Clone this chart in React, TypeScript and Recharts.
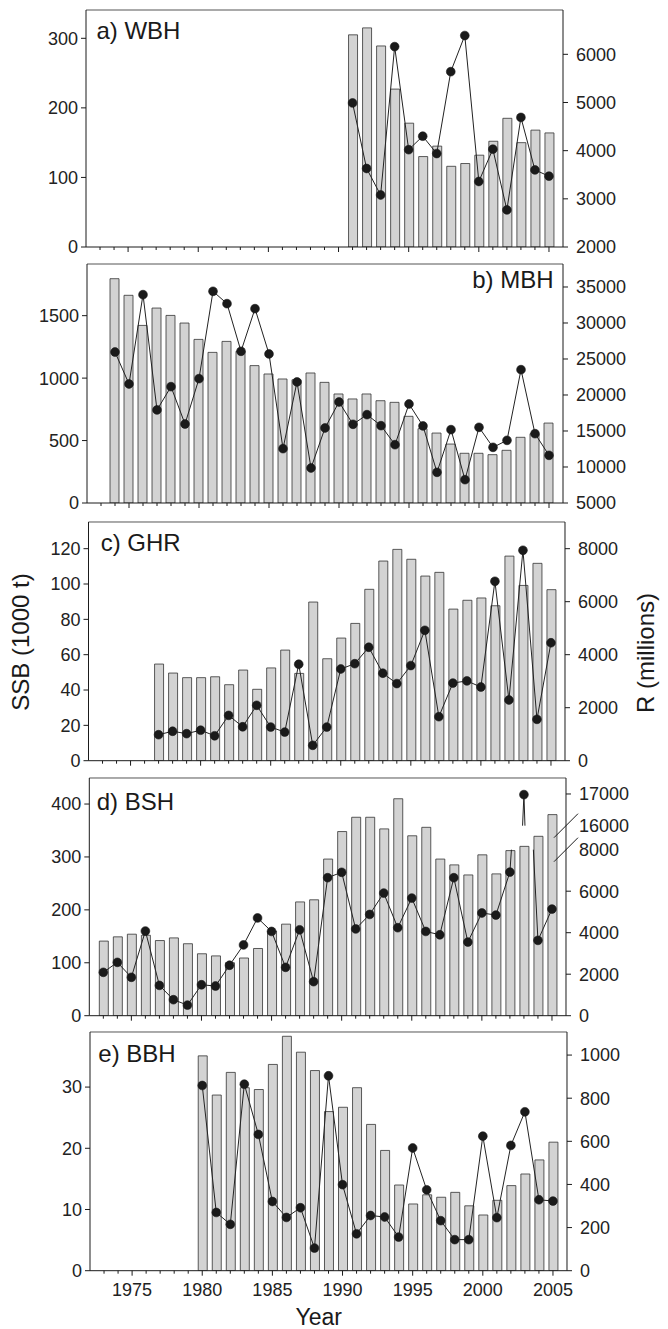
import React from "react";
import { Bar, ComposedChart, Line, ReferenceLine, XAxis, YAxis } from "recharts";

const FONT = "'Liberation Sans', Arial, Helvetica, sans-serif";
const INK = "#1a1a1a";
const BAR_FILL = "#d3d3d3";
const BAR_EDGE = "#333";

const yearsFrom = (start: number, n: number) => Array.from({ length: n }, (_, i) => start + i);

// a) WBH 1991-2005
const wbhStart = 1991;
const wbhSsb = [305, 315, 289, 227, 178, 130, 145, 116, 120, 132, 152, 185, 150, 168, 164];
const wbhR = [4990, 3630, 3080, 6160, 4020, 4300, 3940, 5640, 6390, 3360, 4030, 2770, 4690, 3600, 3470];

// b) MBH 1974-2005
const mbhStart = 1974;
const mbhSsb = [1796, 1663, 1422, 1561, 1502, 1441, 1310, 1206, 1294, 1215, 1100, 1033, 993, 987, 1041, 966, 873, 833, 873, 819, 806, 694, 595, 560, 472, 398, 398, 387, 422, 526, 555, 640];
const mbhR = [25970, 21530, 33940, 17920, 21160, 15970, 22270, 34400, 32690, 26070, 31990, 25700, 12550, 21810, 9860, 15420, 19030, 15930, 17270, 15740, 13100, 18750, 15700, 9260, 15190, 8240, 15510, 12730, 13700, 23520, 14630, 11620];

// c) GHR 1977-2005
const ghrStart = 1977;
const ghrSsb = [54.7, 49.6, 47.0, 47.0, 47.5, 43.0, 51.3, 40.4, 52.5, 62.6, 49.4, 89.8, 57.7, 69.4, 77.7, 97.0, 113.0, 119.6, 114.0, 104.5, 106.6, 85.8, 90.8, 92.1, 87.7, 115.8, 99.2, 111.7, 96.8];
const ghrR = [980, 1110, 1020, 1150, 940, 1710, 1280, 2090, 1270, 1080, 3640, 580, 1270, 3460, 3660, 4280, 3300, 2910, 3590, 4920, 1660, 2930, 3010, 2780, 6770, 2290, 7940, 1560, 4450];

// d) BSH 1973-2005
const bshStart = 1973;
const bshSsb = [141, 149, 154, 152, 142, 147, 136, 117, 113, 100, 109, 127, 160, 173, 215, 219, 296, 348, 375, 375, 353, 410, 340, 356, 296, 285, 266, 304, 268, 312, 320, 339, 380];
const bshR = [2090, 2570, 1850, 4080, 1460, 770, 510, 1490, 1430, 2430, 3410, 4710, 4060, 2330, 4140, 1640, 6650, 6910, 4180, 4880, 5910, 4240, 5670, 4060, 3900, 6650, 3550, 4950, 4850, 6920, 16980, 3630, 5140];

// e) BBH 1980-2005
const bbhStart = 1980;
const bbhSsb = [35.1, 28.7, 32.4, 29.9, 29.6, 33.7, 38.3, 35.7, 32.7, 26.0, 26.7, 29.9, 23.9, 19.65, 14.0, 10.9, 12.4, 12.0, 12.8, 10.6, 9.1, 11.5, 13.9, 15.8, 18.1, 21.0];
const bbhR = [859, 270, 215, 865, 632, 321, 247, 292, 105, 904, 399, 171, 256, 249, 156, 569, 375, 232, 144, 144, 624, 246, 581, 737, 329, 323];

const tickYears = yearsFrom(1973, 33);

const rowsOf = (start: number, ssb: number[], r: number[]) =>
  ssb.map((s, i) => ({ year: start + i, ssb: s, r: r[i] }));

// broken right axis of panel d: 0-8000, gap, 16000-17000 on a stretched scale
const BREAK_LO = 8000;
const BREAK_HI = 16000;
const BREAK_GAP = 1157;
const UPPER_STRETCH = 1.528;
const lift = (v: number) => (v <= BREAK_LO ? v : BREAK_LO + BREAK_GAP + (v - BREAK_HI) * UPPER_STRETCH);

const bshRows = bshSsb.map((s, i) => ({
  year: bshStart + i,
  ssb: s,
  r: bshR[i] <= BREAK_LO ? bshR[i] : null,
  rTop: bshR[i] > BREAK_LO ? lift(bshR[i]) : null,
}));

const cross = (x0: number, v0: number, v1: number, level: number) => x0 + (level - v0) / (v1 - v0);
const iTop = bshR.findIndex((v) => v > BREAK_LO);
const yTop = bshStart + iTop;
const vPrev = bshR[iTop - 1];
const vTop = bshR[iTop];
const vNext = bshR[iTop + 1];
const bshSegments = [
  [{ x: yTop - 1, y: vPrev }, { x: cross(yTop - 1, vPrev, vTop, BREAK_LO), y: BREAK_LO }],
  [{ x: cross(yTop, vTop, vNext, BREAK_LO), y: BREAK_LO }, { x: yTop + 1, y: vNext }],
  [{ x: cross(yTop - 1, vPrev, vTop, BREAK_HI), y: lift(BREAK_HI) }, { x: yTop, y: lift(vTop) }],
  [{ x: yTop, y: lift(vTop) }, { x: cross(yTop, vTop, vNext, BREAK_HI), y: lift(BREAK_HI) }],
];
const bshRightTicks = [0, 2000, 4000, 6000, 8000, 16000, 17000];

function YearTick(props: any) {
  const { x, y, payload, showLabels } = props;
  const v = payload.value;
  const major = v % 5 === 0;
  return (
    <g>
      <line x1={x} x2={x} y1={y} y2={y + (major ? 5 : 3)} stroke={INK} strokeWidth={1} />
      {showLabels && major ? (
        <text x={x} y={y + 25} textAnchor="middle" fontSize={18} fill="#222" fontFamily={FONT}>
          {v}
        </text>
      ) : null}
    </g>
  );
}

function BshRightTick(props: any) {
  const { x, y, payload } = props;
  const v = payload.value;
  const ax = x - 13;
  const real = bshRightTicks.find((t) => Math.abs(lift(t) - v) < 1) ?? v;
  const isBreak = real === BREAK_LO || real === BREAK_HI;
  return (
    <g>
      {isBreak ? (
        <line x1={ax - 12} y1={y + 12} x2={ax + 12} y2={y - 12} stroke={INK} strokeWidth={1} />
      ) : (
        <line x1={ax} x2={ax + 5} y1={y} y2={y} stroke={INK} strokeWidth={1} />
      )}
      <text x={x} y={y} dy="0.355em" textAnchor="start" fontSize={18} fill="#222" fontFamily={FONT}>
        {real}
      </text>
    </g>
  );
}

type PanelProps = {
  rows: any[];
  top: number;
  bottom: number;
  left: number;
  right: number;
  leftMax: number;
  leftTicks: number[];
  rightDomain: [number, number];
  rightTicks: number[];
  showYears?: boolean;
  rightTick?: any;
  children?: React.ReactNode;
};

const MT = 12;
const XH = 40;
const W = 668;
const tickFont = { fontSize: 18, fill: "#222", fontFamily: FONT };

function Panel(p: PanelProps) {
  const h = p.bottom - p.top;
  return (
    <div style={{ position: "absolute", left: 0, top: p.top - MT }}>
      <ComposedChart width={W} height={h + MT + XH} data={p.rows} margin={{ top: MT, right: 0, bottom: 0, left: 0 }}>
        <XAxis
          dataKey="year"
          type="number"
          domain={[1972, 2006]}
          allowDataOverflow
          ticks={tickYears}
          interval={0}
          height={XH}
          tickLine={false}
          tickSize={0}
          tickMargin={0}
          axisLine={{ stroke: INK }}
          tick={(t: any) => <YearTick {...t} showLabels={p.showYears} />}
        />
        <YAxis
          yAxisId="left"
          width={p.left}
          domain={[0, p.leftMax]}
          allowDataOverflow
          ticks={p.leftTicks}
          interval={0}
          tickSize={5}
          tickMargin={3}
          axisLine={{ stroke: INK }}
          tickLine={{ stroke: INK }}
          tick={tickFont}
        />
        <YAxis
          yAxisId="right"
          orientation="right"
          width={W - p.right}
          domain={p.rightDomain}
          allowDataOverflow
          ticks={p.rightTicks}
          interval={0}
          tickSize={5}
          tickMargin={8}
          axisLine={{ stroke: INK }}
          tickLine={p.rightTick ? false : { stroke: INK }}
          tick={p.rightTick ?? tickFont}
        />
        <ReferenceLine yAxisId="left" y={p.leftMax} stroke="#555" strokeWidth={1} />
        <Bar
          yAxisId="left"
          dataKey="ssb"
          barSize={9}
          fill={BAR_FILL}
          stroke={BAR_EDGE}
          strokeWidth={0.8}
          isAnimationActive={false}
        />
        <Line
          yAxisId="right"
          dataKey="r"
          stroke="#222"
          strokeWidth={1}
          connectNulls={false}
          dot={{ r: 4.4, fill: INK, stroke: INK, strokeWidth: 0.6 }}
          activeDot={false}
          isAnimationActive={false}
        />
        {p.children}
      </ComposedChart>
    </div>
  );
}

const labelStyle = { fontSize: 24, fill: "#1a1a1a", fontFamily: FONT };

export default function App() {
  return (
    <div style={{ position: "absolute", left: 0, top: 0, width: W, height: 1329, background: "#fff" }}>
      <Panel
        rows={rowsOf(wbhStart, wbhSsb, wbhR)}
        top={10}
        bottom={247}
        left={86}
        right={563}
        leftMax={340.7}
        leftTicks={[0, 100, 200, 300]}
        rightDomain={[2000, 6920]}
        rightTicks={[2000, 3000, 4000, 5000, 6000]}
      />
      <Panel
        rows={rowsOf(mbhStart, mbhSsb, mbhR)}
        top={264.3}
        bottom={503.3}
        left={87}
        right={563}
        leftMax={1913.7}
        leftTicks={[0, 500, 1000, 1500]}
        rightDomain={[5000, 38194]}
        rightTicks={[5000, 10000, 15000, 20000, 25000, 30000, 35000]}
      />
      <Panel
        rows={rowsOf(ghrStart, ghrSsb, ghrR)}
        top={522.3}
        bottom={761}
        left={88.5}
        right={565}
        leftMax={135.1}
        leftTicks={[0, 20, 40, 60, 80, 100, 120]}
        rightDomain={[0, 9007]}
        rightTicks={[0, 2000, 4000, 6000, 8000]}
      />
      <Panel
        rows={bshRows}
        top={778.3}
        bottom={1016}
        left={89.3}
        right={566}
        leftMax={449.2}
        leftTicks={[0, 100, 200, 300, 400]}
        rightDomain={[0, 11455]}
        rightTicks={bshRightTicks.map(lift)}
        rightTick={(t: any) => <BshRightTick {...t} />}
      >
        <Line
          yAxisId="right"
          dataKey="rTop"
          stroke="#222"
          dot={{ r: 4.4, fill: INK, stroke: INK, strokeWidth: 0.6 }}
          activeDot={false}
          isAnimationActive={false}
        />
        {bshSegments.map((seg, i) => (
          <ReferenceLine key={i} yAxisId="right" segment={seg} stroke="#222" strokeWidth={1} />
        ))}
      </Panel>
      <Panel
        rows={rowsOf(bbhStart, bbhSsb, bbhR)}
        top={1032.3}
        bottom={1271}
        left={90}
        right={567}
        leftMax={39.0}
        leftTicks={[0, 10, 20, 30]}
        rightDomain={[0, 1107]}
        rightTicks={[0, 200, 400, 600, 800, 1000]}
        showYears
      />
      <svg
        width={W}
        height={1329}
        style={{ position: "absolute", left: 0, top: 0, pointerEvents: "none" }}
      >
        <text x={96.4} y={39.3} {...labelStyle}>a) WBH</text>
        <text x={553.6} y={288.3} textAnchor="end" {...labelStyle}>b) MBH</text>
        <text x={100.7} y={550.7} {...labelStyle}>c) GHR</text>
        <text x={96.7} y={810} {...labelStyle}>d) BSH</text>
        <text x={98.3} y={1061.7} {...labelStyle}>e) BBH</text>
        <text x={21} y={642} dy="0.35em" textAnchor="middle" transform="rotate(-90 21 642)" {...labelStyle}>
          SSB (1000 t)
        </text>
        <text x={646} y={653} dy="0.35em" textAnchor="middle" transform="rotate(-90 646 653)" {...labelStyle}>
          R (millions)
        </text>
        <text x={318.7} y={1325} textAnchor="middle" {...labelStyle} fontSize={23}>
          Year
        </text>
      </svg>
    </div>
  );
}
